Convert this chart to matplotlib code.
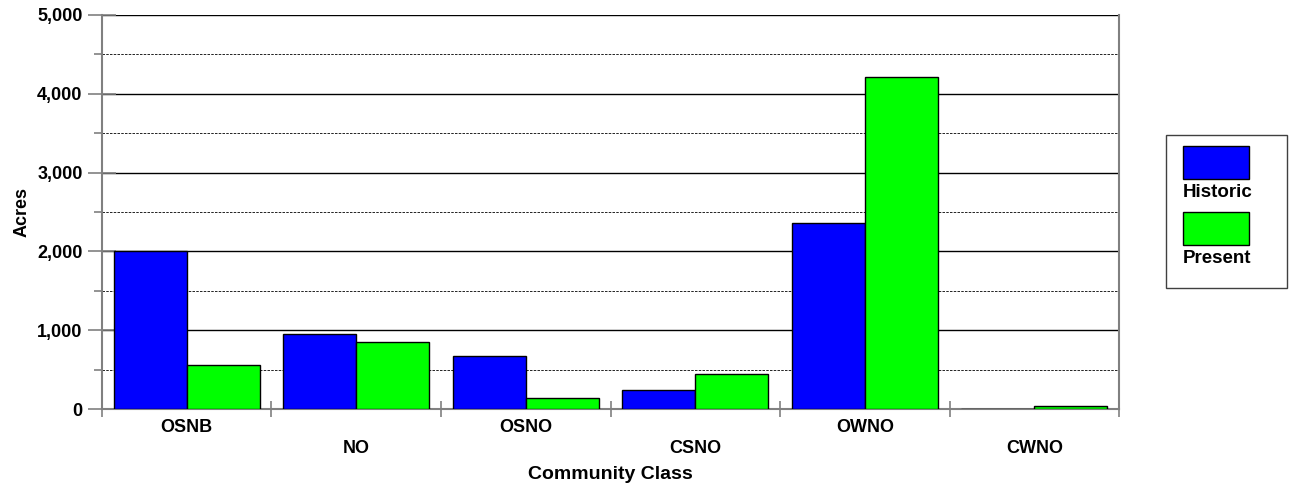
import numpy as np
import matplotlib.pyplot as plt
from matplotlib.patches import Rectangle
from matplotlib.ticker import MultipleLocator, FuncFormatter

plt.rcParams['font.family'] = ['Liberation Sans', 'DejaVu Sans']
plt.rcParams['font.weight'] = 'bold'

categories = ['OSNB', 'NO', 'OSNO', 'CSNO', 'OWNO', 'CWNO']
historic = [2000, 950, 675, 235, 2360, 5]
present = [560, 850, 140, 440, 4210, 35]
series_names = ['Historic', 'Present']
colors = ['#0000FF', '#00FF00']

fig = plt.figure(figsize=(12.91, 4.91), dpi=100)
ax = fig.add_axes([0.079, 0.167, 0.7878, 0.8025])

x = np.arange(len(categories))
w = 0.43
ax.bar(x - w / 2, historic, w, color=colors[0], edgecolor='black', linewidth=1, zorder=3)
ax.bar(x + w / 2, present, w, color=colors[1], edgecolor='black', linewidth=1, zorder=3)

ax.set_xlim(-0.5, len(categories) - 0.5)
ax.set_ylim(0, 5000)

# y axis: major solid grid, minor dashed grid
ax.yaxis.set_major_locator(MultipleLocator(1000))
ax.yaxis.set_minor_locator(MultipleLocator(500))
ax.yaxis.set_major_formatter(FuncFormatter(lambda v, p: f'{int(v):,}'))
ax.grid(axis='y', which='major', color='black', linewidth=1, zorder=0)
ax.grid(axis='y', which='minor', color='black', linewidth=0.6, linestyle=(0, (3, 1.5)), zorder=0)
ax.tick_params(axis='y', which='major', direction='inout', length=20, width=1.2, color='#808080',
               labelsize=13, pad=4)
ax.tick_params(axis='y', which='minor', direction='out', length=6, width=1.2, color='#808080')

# x axis: separators at category boundaries, staggered labels
ax.set_xticks(x)
ax.set_xticklabels(categories, fontsize=13, fontweight='bold')
ax.set_xticks(np.arange(len(categories) + 1) - 0.5, minor=True)
ax.tick_params(axis='x', which='major', length=0)
ax.tick_params(axis='x', which='minor', direction='inout', length=12, width=1.2, color='#808080')
for i, t in enumerate(ax.xaxis.get_major_ticks()):
    t.set_pad(7 if i % 2 == 0 else 22)

for s in ['left', 'right', 'bottom']:
    ax.spines[s].set_color('#808080')
    ax.spines[s].set_linewidth(1.5)
ax.spines['top'].set_visible(False)

ax.set_ylabel('Acres', fontsize=13, fontweight='bold', labelpad=5)
ax.set_xlabel('Community Class', fontsize=14, fontweight='bold', labelpad=7)

# legend: swatch above label, boxed
W, H = 1291, 491
def fx(px): return px / W
def fy(py): return 1 - py / H
fig.patches.append(Rectangle((fx(1166), fy(288)), fx(1287) - fx(1166), fy(135) - fy(288),
                             transform=fig.transFigure, facecolor='white', edgecolor='#404040', lw=1))
for i, name in enumerate(series_names):
    top = 146 + i * 66
    fig.patches.append(Rectangle((fx(1183), fy(top + 33)), fx(1249) - fx(1183), fy(top) - fy(top + 33),
                                 transform=fig.transFigure, facecolor=colors[i], edgecolor='black', lw=1))
    fig.text(fx(1183), fy(top + 51), name, fontsize=13.5, fontweight='bold', va='baseline', ha='left')

fig.savefig('out.png', dpi=100)
